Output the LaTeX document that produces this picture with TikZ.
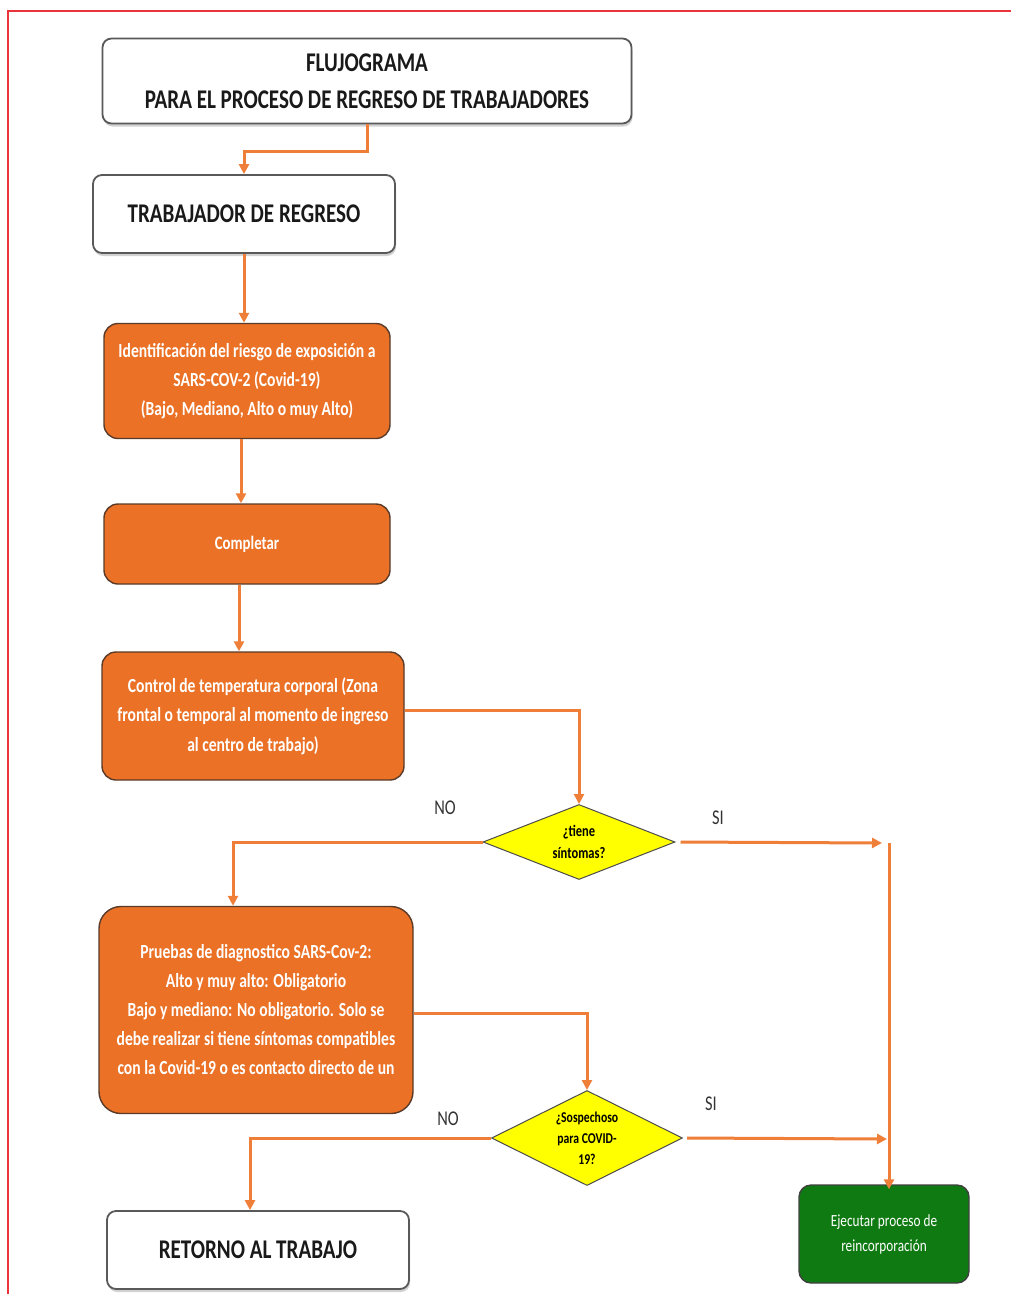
\documentclass[tikz,border=0pt]{standalone}
\usepackage{fontspec}
\setmainfont{Carlito}[FakeStretch=0.78]
\usetikzlibrary{shapes.geometric,arrows.meta,shadows}

\definecolor{naranja}{HTML}{EA7125}
\definecolor{flechanar}{HTML}{EE7E38}
\definecolor{bordenar}{HTML}{5A3A28}
\definecolor{verde}{HTML}{107A12}
\definecolor{amarillo}{HTML}{FFFF00}
\definecolor{rojo}{HTML}{E8343A}

\begin{document}
\begin{tikzpicture}[x=1pt,y=-1pt,
    caja/.style={draw=gray!70!black,line width=1.8pt,rounded corners=9pt,fill=white,
                 drop shadow={shadow xshift=1pt,shadow yshift=-3pt,fill=gray!70},
                 inner sep=0pt,align=center,text=black!90},
    naranjo/.style={draw=bordenar,line width=1.4pt,rounded corners=14pt,fill=naranja,
                 inner sep=0pt,align=center,text=white,font=\bfseries},
    rombo/.style={diamond,draw=black!70,line width=1pt,fill=amarillo,inner sep=0pt,
                 aspect=2.5,align=center,font=\bfseries},
    flecha/.style={draw=flechanar,line width=3pt,-{Triangle[length=10pt,width=10pt]}},
    etiqueta/.style={text=black!80,font=\fontsize{21}{24}\selectfont}]

    \useasboundingbox (0,0) rectangle (1011,1294);
    \draw[rojo,line width=1.8pt] (1011,11) -- (8,11) -- (8,1294);

    \node[caja,minimum width=529pt,minimum height=85pt,
          font=\bfseries\fontsize{27}{37}\selectfont] (titulo) at (367,81)
          {FLUJOGRAMA\\PARA EL PROCESO DE REGRESO DE TRABAJADORES};
    \node[caja,minimum width=302pt,minimum height=78pt,
          font=\bfseries\fontsize{27}{32}\selectfont] (trabajador) at (244,214)
          {TRABAJADOR DE REGRESO};
    \node[naranjo,minimum width=286pt,minimum height=115pt,
          font=\bfseries\fontsize{20}{29}\selectfont] (ident) at (247,381)
          {Identificación del riesgo de exposición a\\SARS-COV-2 (Covid-19)\\(Bajo, Mediano, Alto o muy Alto)};
    \node[naranjo,minimum width=286pt,minimum height=80pt,
          font=\bfseries\fontsize{19}{24}\selectfont] (completar) at (247,544)
          {Completar};
    \node[naranjo,minimum width=302pt,minimum height=128pt,
          font=\bfseries\fontsize{20}{29.5}\selectfont] (control) at (253,716)
          {Control de temperatura corporal (Zona\\frontal o temporal al momento de ingreso\\al centro de trabajo)};
    \node[rombo,minimum width=192pt,minimum height=75pt,
          font=\bfseries\fontsize{16}{22}\selectfont] (sintomas) at (579,842)
          {¿tiene\\síntomas?};
    \node[naranjo,rounded corners=22pt,minimum width=314pt,minimum height=207pt,
          font=\bfseries\fontsize{20}{29}\selectfont] (pruebas) at (256,1010)
          {Pruebas de diagnostico SARS-Cov-2:\\Alto y muy alto: Obligatorio\\Bajo y mediano: No obligatorio. Solo se\\debe realizar si tiene síntomas compatibles\\con la Covid-19 o es contacto directo de un};
    \node[rombo,aspect=2,minimum width=191pt,minimum height=95pt,
          font=\bfseries\fontsize{15}{21}\selectfont] (sospechoso) at (587,1138)
          {¿Sospechoso\\para COVID-\\19?};
    \node[caja,minimum width=302pt,minimum height=78pt,
          font=\bfseries\fontsize{27}{32}\selectfont] (retorno) at (258,1250)
          {RETORNO AL TRABAJO};
    \node[draw=black!75,line width=1.4pt,rounded corners=12pt,fill=verde,
          minimum width=170pt,minimum height=98pt,inner sep=0pt,align=center,
          text=white,font=\fontsize{17}{25}\selectfont] (ejecutar) at (884,1234)
          {Ejecutar proceso de\\reincorporación};

    \node[etiqueta] (no1) at (445,808) {NO};
    \node[etiqueta] (si1) at (718,818) {SI};
    \node[etiqueta] (no2) at (448,1119) {NO};
    \node[etiqueta] (si2) at (711,1104) {SI};

    \coordinate (fin1) at (882,843);
    \coordinate (fin2) at (887,1139);
    \coordinate (bajada) at (889,843);

    \draw[flecha] (titulo.south) -- ++(0,27) -| (trabajador.north);
    \draw[flecha] (trabajador.south) -- (trabajador.south |- ident.north);
    \draw[flecha] ([xshift=-6pt]ident.south) -- ([xshift=-6pt]completar.north);
    \draw[flecha] ([xshift=-8pt]completar.south) -- ([xshift=-14pt]control.north);
    \draw[flecha] ([yshift=6pt]control.east) -| (sintomas.north);
    \draw[flecha] (sintomas.west) -| ([xshift=-23pt]pruebas.north);
    \draw[flecha] ([xshift=5pt]sintomas.east) -- (fin1);
    \draw[flecha] (bajada) -- ([yshift=-5pt]bajada |- ejecutar.north);
    \draw[flecha] ([yshift=-3pt]pruebas.east) -| (sospechoso.north);
    \draw[flecha] (sospechoso.west) -| ([xshift=-8pt]retorno.north);
    \draw[flecha] ([xshift=4pt]sospechoso.east) -- (fin2);

\end{tikzpicture}
\end{document}
